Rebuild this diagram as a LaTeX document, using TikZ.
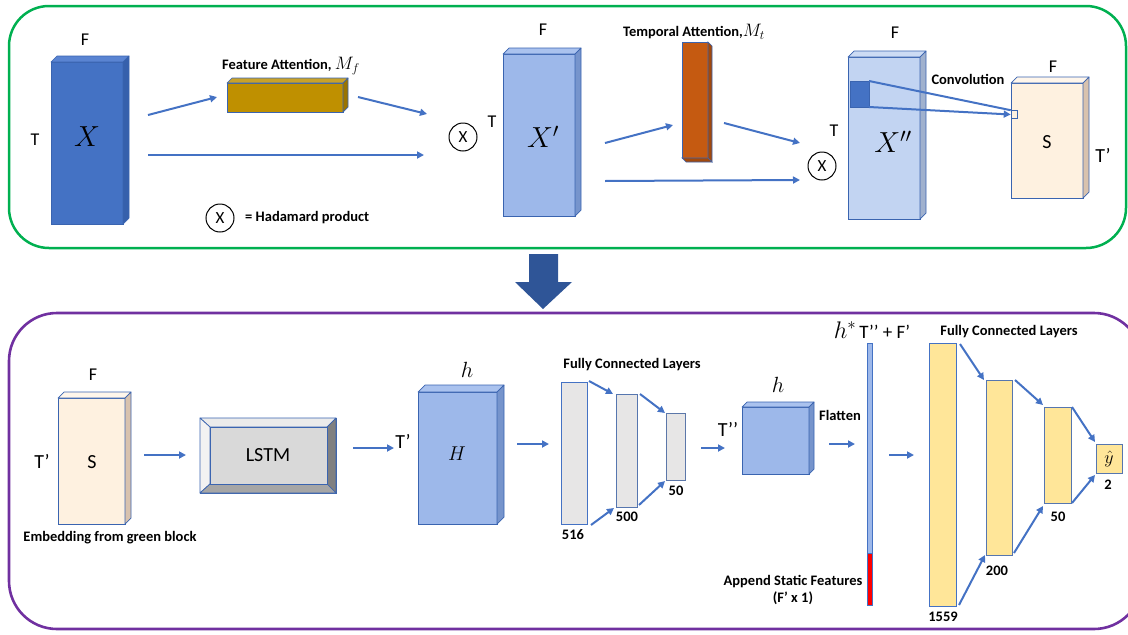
\RequirePackage{fix-cm}
\documentclass[tikz,border=0pt]{standalone}
\usepackage{fontspec}
\setmainfont{Carlito}
\usetikzlibrary{arrows.meta}

\definecolor{arrblue}{HTML}{4472C4}
\definecolor{edgeblue}{HTML}{3A64B0}
\definecolor{xfront}{HTML}{4472C4}
\definecolor{xtop}{HTML}{5A84D2}
\definecolor{xside}{HTML}{3660AC}
\definecolor{lbfront}{HTML}{9DB8EA}
\definecolor{lbtop}{HTML}{AAC2EE}
\definecolor{lbside}{HTML}{7694CC}
\definecolor{pbfront}{HTML}{C2D4F2}
\definecolor{pbtop}{HTML}{CCDBF4}
\definecolor{pbside}{HTML}{A0B1CE}
\definecolor{gold}{HTML}{BF9000}
\definecolor{goldtop}{HTML}{C9A22A}
\definecolor{goldside}{HTML}{9A7400}
\definecolor{rust}{HTML}{C55A11}
\definecolor{rustside}{HTML}{A2490C}
\definecolor{cream}{HTML}{FEF1E0}
\definecolor{creamtop}{HTML}{FFF6EB}
\definecolor{creamside}{HTML}{D8C2AE}
\definecolor{fcgrey}{HTML}{E7E6E6}
\definecolor{fcyellow}{HTML}{FFE699}
\definecolor{panelgreen}{HTML}{00B050}
\definecolor{panelpurple}{HTML}{7030A0}
\definecolor{bigarrow}{HTML}{2F5597}

% faces of a slab that recedes up and to the right of its front node
\newcommand\slabfaces[4]{%
  \filldraw[fill=#3,draw=edgeblue,line width=0.7pt,line join=round]
    (#1.north west) -- ++(#2,-#2) -- ([shift={(#2,-#2)}]#1.north east) -- (#1.north east) -- cycle;
  \filldraw[fill=#4,draw=edgeblue,line width=0.7pt,line join=round]
    (#1.north east) -- ++(#2,-#2) -- ([shift={(#2,-#2)}]#1.south east) -- (#1.south east) -- cycle;}

\begin{document}
\begin{tikzpicture}[x=1pt,y=-1pt,
  blk/.style={draw=edgeblue,line width=0.7pt,inner sep=0pt,outer sep=0pt},
  arr/.style={draw=arrblue,line width=2pt,-{Triangle[length=7pt,width=7pt]}},
  dim/.style={font=\fontsize{18}{20}\selectfont,inner sep=0pt},
  big/.style={font=\fontsize{20}{22}\selectfont,inner sep=0pt},
  bold/.style={font=\bfseries\fontsize{14.5}{16}\selectfont,inner sep=0pt},
  mathbig/.style={font=\fontsize{29}{31}\selectfont,inner sep=0pt},
  had/.style={circle,draw,line width=1pt,minimum size=28pt,inner sep=0pt,font=\fontsize{17}{18}\selectfont}]
\useasboundingbox (0,0) rectangle (1128,635);

% ---------- panels ----------
\draw[panelgreen,line width=2.5pt,rounded corners=40pt] (9,6) rectangle (1126,248);
\draw[panelpurple,line width=2.6pt,rounded corners=48pt] (9,313) rectangle (1142,629);

% big downward arrow between the panels
\fill[bigarrow] (529,254) -- (558,254) -- (558,282) -- (572,282) -- (543,309) -- (515,282) -- (529,282) -- cycle;

% ---------- attention block (top) ----------
\node[blk,fill=xfront,minimum width=72pt,minimum height=162pt] (X) at (87,143) {};
\slabfaces{X}{6}{xtop}{xside}
\node[mathbig] (Xl) at (87,137) {$X$};
\node[dim] (XF) at (85,40) {F};
\node[dim] (XT) at (35,140) {T};

\node[blk,fill=gold,minimum width=116pt,minimum height=29pt] (FA) at (285,97.5) {};
\slabfaces{FA}{5}{goldtop}{goldside}
\node[bold] (FAl) at (291,66) {Feature Attention, {\fontsize{18}{20}\selectfont$M_f$}};

\node[had] (had1) at (463,137) {X};

\node[blk,fill=lbfront,minimum width=72pt,minimum height=162pt] (X1) at (539,135) {};
\slabfaces{X1}{6}{lbtop}{lbside}
\node[mathbig] (X1l) at (543,137) {$X'$};
\node[dim] (X1F) at (543,30) {F};
\node[dim] (X1T) at (492,122) {T};

\node[blk,fill=rust,minimum width=26pt,minimum height=116pt] (TA) at (695,100) {};
\filldraw[fill=rustside,draw=edgeblue,line width=0.7pt]
  (TA.north east) -- ++(4,4) -- ([shift={(4,4)}]TA.south east) -- (TA.south east) -- cycle;
\filldraw[fill=rustside,draw=edgeblue,line width=0.7pt]
  (TA.south west) -- ++(4,4) -- ([shift={(4,4)}]TA.south east) -- (TA.south east) -- cycle;
\node[bold] (TAl) at (694,32) {Temporal Attention,{\fontsize{18}{20}\selectfont$M_t$}};

\node[had] (had2) at (822,166) {X};

\node[blk,fill=pbfront,minimum width=72pt,minimum height=162pt] (X2) at (884,138) {};
\slabfaces{X2}{6}{pbtop}{pbside}
\node[mathbig] (X2l) at (893,142) {$X''$};
\node[dim] (X2F) at (895,33) {F};
\node[dim] (X2T) at (834,131) {T};
\node[blk,fill=xfront,minimum width=19pt,minimum height=26pt] (kern) at (859.5,94) {};

\node[blk,fill=cream,minimum width=72pt,minimum height=115pt] (S1) at (1047,140.5) {};
\slabfaces{S1}{6}{creamtop}{creamside}
\node[big] (S1l) at (1047,142) {S};
\node[dim] (S1F) at (1053,67) {F};
\node[big] (S1T) at (1103,155) {T’};
\node[draw=edgeblue,line width=0.6pt,minimum width=6pt,minimum height=8pt,inner sep=0pt] (cell) at (1014,114.5) {};
\node[bold] (conv) at (968,79) {Convolution};

% convolution window mapped onto one output cell
\draw[arrblue,line width=2pt] (kern.north east) -- (cell.north west);
\draw[arr] (kern.south east) -- (cell.west);

% legend
\node[had] (hadl) at (220,218) {X};
\node[bold,anchor=west] (hadt) at (245,218) {= Hadamard product};

% top arrows
\foreach \n/\a/\b in {a1/{148,115}/{217,97}, a2/{358,97}/{427,114}, a3/{148,155}/{424,155},
                      a4/{605,143}/{673,125}, a5/{724,123}/{800,143}, a6/{605,181}/{800,180}}{
  \coordinate (\n s) at (\a);
  \coordinate (\n e) at (\b);
  \draw[arr] (\n s) -- (\n e);
}

% ---------- prediction block (bottom) ----------
\node[blk,fill=cream,minimum width=67pt,minimum height=126pt] (S2) at (91.5,461) {};
\slabfaces{S2}{6}{creamtop}{creamside}
\node[big] (S2l) at (92,462) {S};
\node[dim] (S2F) at (93,375) {F};
\node[big] (S2T) at (42,461) {T’};
\node[bold] (emb) at (110,538) {Embedding from green block};

% bevelled LSTM button
\node[blk,fill=fcgrey,minimum width=136pt,minimum height=75pt] (lstm) at (268,455.5) {};
\begin{scope}[draw=edgeblue,line width=0.7pt,line join=round]
\filldraw[fill=white!92!black] (lstm.north west) -- (lstm.north east) -- ([shift={(-9,9)}]lstm.north east) -- ([shift={(10,9)}]lstm.north west) -- cycle;
\filldraw[fill=white!95!black] (lstm.north west) -- ([shift={(10,9)}]lstm.north west) -- ([shift={(10,-9)}]lstm.south west) -- (lstm.south west) -- cycle;
\filldraw[fill=black!50] (lstm.north east) -- (lstm.south east) -- ([shift={(-9,-9)}]lstm.south east) -- ([shift={(-9,9)}]lstm.north east) -- cycle;
\filldraw[fill=black!35] (lstm.south west) -- (lstm.south east) -- ([shift={(-9,-9)}]lstm.south east) -- ([shift={(10,-9)}]lstm.south west) -- cycle;
\filldraw[fill=black!15] ([shift={(10,9)}]lstm.north west) rectangle ([shift={(-9,-9)}]lstm.south east);
\end{scope}
\node[big] (lstml) at (268,455) {LSTM};

\node[blk,fill=lbfront,minimum width=79pt,minimum height=132pt] (H) at (457.5,458) {};
\slabfaces{H}{7}{lbtop}{lbside}
\node[font=\fontsize{20}{22}\selectfont,inner sep=0pt] (Hl) at (457,454) {$H$};
\node[font=\fontsize{22}{24}\selectfont,inner sep=0pt] (Hh) at (467,370) {$h$};
\node[big] (HT) at (403,441) {T’};

% first stack of fully connected layers
\node[blk,fill=fcgrey,draw=arrblue,minimum width=26pt,minimum height=142pt] (g1) at (574,453) {};
\node[blk,fill=fcgrey,draw=arrblue!70!gray,minimum width=21pt,minimum height=113pt] (g2) at (626.5,450.5) {};
\node[blk,fill=fcgrey,draw=arrblue!60!gray,minimum width=19pt,minimum height=67pt] (g3) at (675.5,446.5) {};
\node[bold] (fc1) at (632,365) {Fully Connected Layers};
\node[bold] (n516) at (573,535) {516};
\node[bold] (n500) at (627,517) {500};
\node[bold] (n50a) at (676,491) {50};
\draw[arr] ([shift={(2,-1)}]g1.north east) -- ([shift={(-3,0)}]g2.north west);
\draw[arr] ([shift={(4,1)}]g1.south east) -- ([shift={(-2,1)}]g2.south west);
\draw[arr] ([shift={(3,0)}]g2.north east) -- ([shift={(-1,0)}]g3.north west);
\draw[arr] ([shift={(2,-2)}]g2.south east) -- ([shift={(-1,1)}]g3.south west);

\node[blk,fill=lbfront,minimum width=67pt,minimum height=67pt] (C) at (775.5,440.5) {};
\slabfaces{C}{5}{lbtop}{lbside}
\node[font=\fontsize{22}{24}\selectfont,inner sep=0pt] (Ch) at (778,385) {$h$};
\node[big] (CT) at (728,429) {T’’};
\node[bold] (flat) at (840,415) {Flatten};

% flattened vector with the static features appended at its end
\node[blk,fill=lbfront,draw=arrblue,minimum width=5pt,minimum height=262pt] (bar) at (869.5,474) {};
\filldraw[fill=red,draw=arrblue,line width=0.7pt] (bar.south west) rectangle ([shift={(0,-52)}]bar.south east);
\node[inner sep=0pt] (barl) at (872,330) {\fontsize{24}{26}\selectfont$h^*$\fontsize{19}{21}\selectfont\,T’’ + F’};
\node[bold,align=center] (app) at (793,590) {Append Static Features\\[1pt](F’ x 1)};

% second stack of fully connected layers
\node[blk,fill=fcyellow,draw=arrblue,minimum width=27pt,minimum height=263pt] (y1) at (942.5,474.5) {};
\node[blk,fill=fcyellow,draw=arrblue!70!gray,minimum width=26pt,minimum height=175pt] (y2) at (999,467.5) {};
\node[blk,fill=fcyellow,draw=arrblue!70!gray,minimum width=27pt,minimum height=96pt] (y3) at (1057.5,455) {};
\node[blk,fill=fcyellow,draw=arrblue!70!gray,minimum width=26pt,minimum height=29pt,font=\fontsize{18}{20}\selectfont] (y4) at (1109,458.5) {$\hat{y}$};
\node[bold] (fc2) at (1009,332) {Fully Connected Layers};
\node[bold] (n1559) at (943,617) {1559};
\node[bold] (n200) at (997,571) {200};
\node[bold] (n50b) at (1058,517) {50};
\node[bold] (n2) at (1108,485) {2};
\draw[arr] ([shift={(4,1)}]y1.north east) -- ([shift={(-2,0)}]y2.north west);
\draw[arr] ([shift={(3,-1)}]y1.south east) -- ([shift={(-1,0)}]y2.south west);
\draw[arr] ([shift={(3,0)}]y2.north east) -- ([shift={(-1,-2)}]y3.north west);
\draw[arr] ([shift={(2,-2)}]y2.south east) -- ([shift={(-1,3)}]y3.south west);
\draw[arr] ([shift={(1,0)}]y3.north east) -- ([shift={(-1,-2)}]y4.north west);
\draw[arr] ([shift={(1,0)}]y3.south east) -- ([shift={(-1,2)}]y4.south west);

% remaining bottom arrows
\foreach \n/\a/\b in {b1/{144,455}/{186,455}, b2/{353,448}/{394,448}, b3/{517,444}/{549,444},
                      b8/{701,448}/{725,448}, b9/{829,444}/{855,444}, b10/{889,455}/{914,455}}{
  \coordinate (\n s) at (\a);
  \coordinate (\n e) at (\b);
  \draw[arr] (\n s) -- (\n e);
}
\end{tikzpicture}
\end{document}
